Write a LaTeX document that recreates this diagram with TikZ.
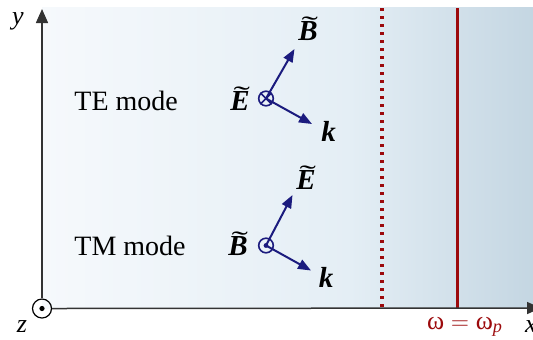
\documentclass[tikz,border=0pt]{standalone}
\usepackage{amsmath}
\usepackage{graphicx}
\usepackage{fontspec}
\setmainfont{Liberation Serif}
\usetikzlibrary{arrows.meta,positioning}
\definecolor{fieldnavy}{HTML}{1B1B7E}
\definecolor{plasmared}{HTML}{9C0A0C}
\definecolor{paleleft}{HTML}{F6F9FC}
\definecolor{palemid}{HTML}{E4EEF5}
\definecolor{paleright}{HTML}{C4D6E2}
\definecolor{axisgrey}{HTML}{333333}
\tikzset{
  axis/.style={draw=axisgrey,line width=0.75pt,-{Triangle[length=7pt,width=6pt]}},
  field/.style={-{Triangle[length=6.5pt,width=5pt]},draw=fieldnavy,line width=1pt},
  spot/.style={circle,draw=fieldnavy,line width=0.8pt,minimum size=7.3pt,inner sep=0pt},
  vec/.style={font=\fontsize{14.5}{16}\selectfont\bfseries\itshape,inner sep=0pt},
  modelabel/.style={font=\fontsize{14}{16}\selectfont,anchor=west,inner sep=0pt},
  axlabel/.style={font=\fontsize{13}{15}\selectfont\itshape,inner sep=0pt},
  cutoff/.style={draw=plasmared,line width=1.8pt},
}
\newcommand{\tvec}[1]{\ooalign{#1\cr\hidewidth\kern0.12em\raisebox{0.2em}{\scalebox{1.7}[0.9]{\normalfont\char"02DC}}\hidewidth\cr}}

\begin{document}
\begin{tikzpicture}[x=0.5pt,y=-0.5pt]
  \useasboundingbox (0,0) rectangle (533,339);
  % background
  \shade[left color=paleleft,right color=palemid] (42,7) rectangle (350.5,308);
  \shade[left color=palemid,right color=paleright] (350,7) rectangle (533,308);
  % frequency lines
  \draw[cutoff,line width=1.6pt,dash pattern=on 1.5pt off 2.5pt] (382,8) -- (382,308);
  \draw[cutoff] (457.5,8) -- (457.5,308);
  \node[font=\fontsize{13}{15}\selectfont,text=plasmared,inner sep=0pt] (wp) at (465,327) {ω${}={}$ω\textsubscript{\itshape p}};
  % axes
  \node[spot,draw=black,line width=0.6pt,minimum size=9.5pt] (origin) at (42,308.5) {};
  \fill (origin.center) circle (1.3pt);
  \coordinate (ytip) at (42,9);
  \coordinate (xtip) at (541,308);
  \draw[axis] (origin.north) -- (ytip);
  \draw[axis] (origin.east) -- (xtip);
  \node[axlabel] (ylab) at (18,21) {y};
  \node[axlabel] (zlab) at (22,327) {z};
  \node[axlabel] (xlab) at (531,327) {x};
  % TE mode
  \node[modelabel] (te mode) at (74,101) {TE mode};
  \node[spot] (te) at (266,98.5) {};
  \draw[fieldnavy,line width=0.8pt] (te.north east) -- (te.south west) (te.north west) -- (te.south east);
  \coordinate (te B) at (294.5,49);
  \coordinate (te k) at (312,124);
  \draw[field] (te.center) -- (te B);
  \draw[field] (te.center) -- (te k);
  \node[vec] (te Bl) at (308,31) {\tvec{B}};
  \node[vec] (te El) at (240,101) {\tvec{E}};
  \node[vec] (te kl) at (328.5,131) {k};
  % TM mode
  \node[modelabel] (tm mode) at (74,246) {TM mode};
  \node[spot] (tm) at (266,245.5) {};
  \fill[fieldnavy] (tm.center) circle (1.2pt);
  \coordinate (tm E) at (292.5,195);
  \coordinate (tm k) at (311,270.5);
  \draw[field] (tm.center) -- (tm E);
  \draw[field] (tm.center) -- (tm k);
  \node[vec] (tm El) at (306,180) {\tvec{E}};
  \node[vec] (tm Bl) at (238,246) {\tvec{B}};
  \node[vec] (tm kl) at (326,277) {k};
\end{tikzpicture}
\end{document}
